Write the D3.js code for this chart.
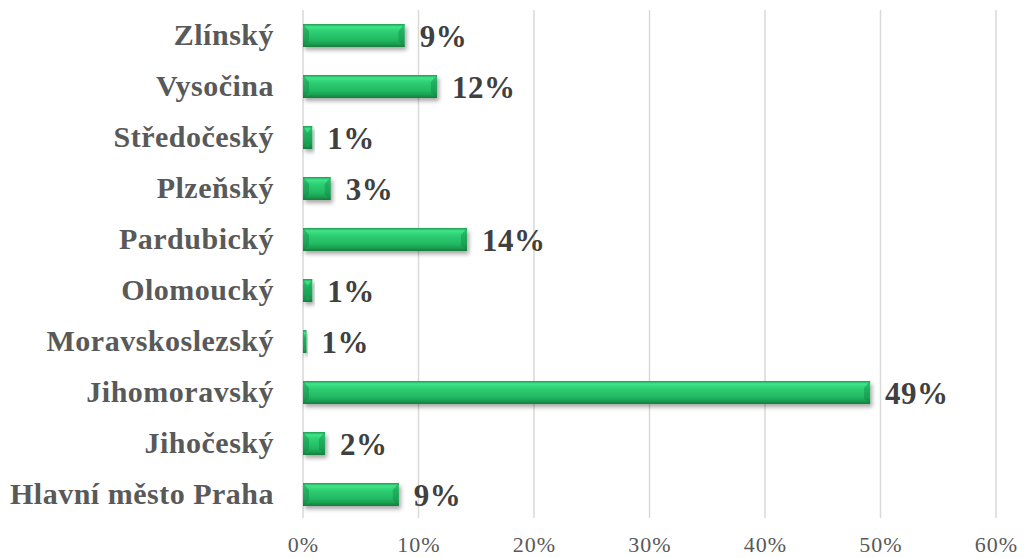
<!DOCTYPE html>
<html><head><meta charset="utf-8">
<script src="https://cdn.jsdelivr.net/npm/d3@7"></script>
<style>body{margin:0;background:#fff;}svg{display:block;}</style>
</head><body>
<script>
const categories = ["Zlínský","Vysočina","Středočeský","Plzeňský","Pardubický","Olomoucký","Moravskoslezský","Jihomoravský","Jihočeský","Hlavní město Praha"];
const values = [8.8, 11.6, 0.8, 2.4, 14.2, 0.8, 0.3, 49.1, 1.9, 8.3];
const valueLabels = ["9%","12%","1%","3%","14%","1%","1%","49%","2%","9%"];
const ticks = [0,10,20,30,40,50,60];

const W=1024,H=558;
const svg=d3.select("body").append("svg").attr("width",W).attr("height",H);
const x=d3.scaleLinear().domain([0,60]).range([303,996]);
const y=d3.scaleBand().domain(categories).range([10,520]).paddingInner(0.55).paddingOuter(0.275);

const defs=svg.append("defs");
const g=defs.append("linearGradient").attr("id","bar").attr("x1",0).attr("y1",0).attr("x2",0).attr("y2",1);
[[0,"#1c9a4e"],[0.12,"#3fe58a"],[0.3,"#2fd074"],[0.7,"#22b862"],[0.88,"#1a9c4f"],[1,"#127a3a"]].forEach(s=>g.append("stop").attr("offset",s[0]).attr("stop-color",s[1]));
const f=defs.append("filter").attr("id","sh").attr("x","-10%").attr("y","-30%").attr("width","130%").attr("height","180%");
f.append("feDropShadow").attr("dx",2).attr("dy",3).attr("stdDeviation",2).attr("flood-color","#000").attr("flood-opacity",0.35);

// gridlines
svg.append("g").selectAll("line").data(ticks).join("line")
  .attr("x1",d=>x(d)).attr("x2",d=>x(d)).attr("y1",10).attr("y2",518)
  .attr("stroke","#d9d9d9").attr("stroke-width",1.5);

// x axis
const xa=svg.append("g").attr("transform","translate(0,518)")
  .call(d3.axisBottom(x).tickValues(ticks).tickFormat(d=>d+"%").tickSize(0).tickPadding(18));
xa.select(".domain").remove();
xa.selectAll("text").attr("font-family","Liberation Serif").attr("font-size",22).attr("letter-spacing","1px").attr("fill","#595959");

// y axis
const ya=svg.append("g").attr("transform","translate(303,0)")
  .call(d3.axisLeft(y).tickSize(0).tickPadding(29));
ya.select(".domain").remove();
ya.selectAll("text").attr("font-family","Liberation Serif").attr("font-weight","bold").attr("font-size",30).attr("letter-spacing","0.5px").attr("fill","#595959");

// bars
const bars=svg.append("g").selectAll("g").data(categories).join("g");
bars.append("rect").attr("x",x(0)).attr("y",d=>y(d)).attr("height",y.bandwidth())
  .attr("width",(d,i)=>x(values[i])-x(0)).attr("fill","url(#bar)").attr("filter","url(#sh)");
// bevel ends
bars.append("path").attr("d",(d,i)=>{
  const x0=x(0),x1=x(values[i]),y0=y(d),h=y.bandwidth(),b=Math.min(6,(x1-x0)/2);
  return `M${x0},${y0}L${x0+b},${y0+h*0.3}L${x0+b},${y0+h*0.75}L${x0},${y0+h}Z M${x1},${y0}L${x1-b},${y0+h*0.3}L${x1-b},${y0+h*0.75}L${x1},${y0+h}Z`;
}).attr("fill","#128043").attr("opacity",0.4);

// value labels
svg.append("g").selectAll("text").data(categories).join("text")
  .attr("x",(d,i)=>x(values[i])+15).attr("y",d=>y(d)+y.bandwidth()/2).attr("dy","0.36em")
  .attr("font-family","Liberation Serif").attr("font-weight","bold").attr("font-size",31).attr("letter-spacing","0.5px").attr("fill","#404040")
  .text((d,i)=>valueLabels[i]);
</script>
</body></html>
